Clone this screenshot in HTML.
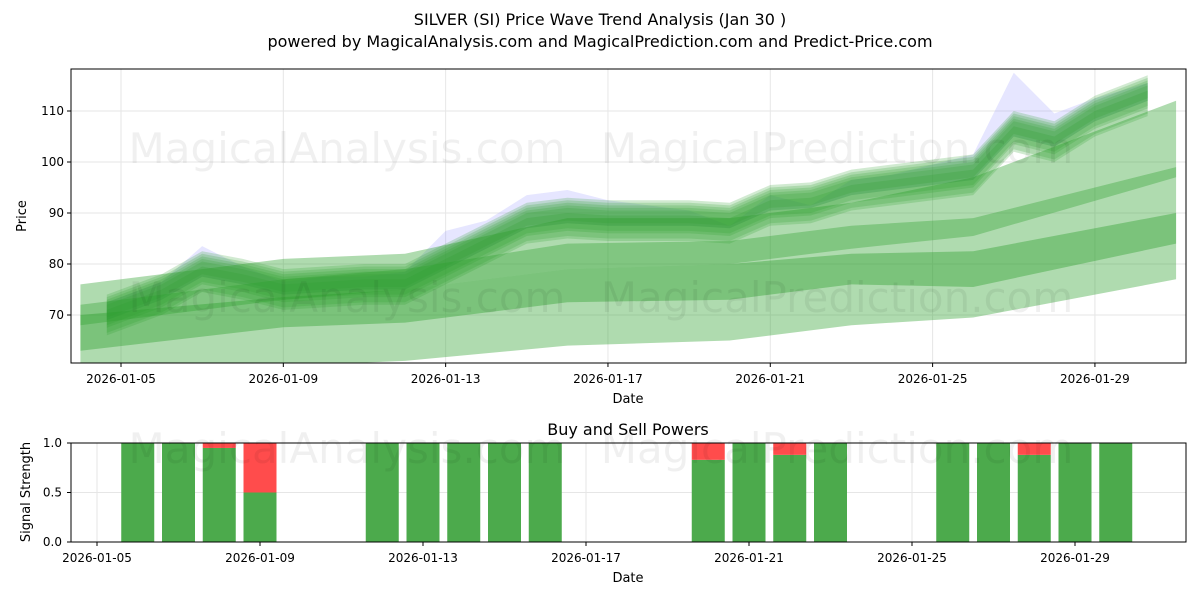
<!DOCTYPE html>
<html><head><meta charset="utf-8"><style>
body{margin:0;background:#fff;font-family:"Liberation Sans","DejaVu Sans",sans-serif}
</style></head><body>
<svg id="c" width="1200" height="600" xmlns="http://www.w3.org/2000/svg" font-family="DejaVu Sans, Liberation Sans, sans-serif">
<text x="600" y="25" text-anchor="middle" font-size="16">SILVER (SI) Price Wave Trend Analysis (Jan 30 )</text>
<text x="600" y="47" text-anchor="middle" font-size="16">powered by MagicalAnalysis.com and MagicalPrediction.com and Predict-Price.com</text>
<g id="topChart"></g><g id="botChart"></g>
</svg>
<script>
const NS='http://www.w3.org/2000/svg';
const days=[4.65,6,7,8,9,10,11,12,13,14,15,16,17,18,19,20,21,22,23,24,25,26,27,28,29,30.3];
const price=[71,75,79.5,78,76,76.5,77,77,81,85,89,90,89.5,89.5,89.5,89,92.5,93,95.5,96.5,97.5,98.5,107,105,110,114];
const peak=[72,76,83,79,76,77,77,78,86,88,93,94,92,91,90,87,93,91,96,97,99,101,117,109,112,115];
const bandDays=[4,9,12,16,20,23,26,31];
const bandALo=[57,60,61,64,65,68,69.5,77];
const bandAHi=[76,81,82,89,89,92,97,112];
const bandBLo=[63,67.6,68.5,72.5,73,76,75.5,84];
const bandBHi=[70,73.5,75,79,80,82,82.5,90];
const bandCLo=[68,73,75,79,80,83,85.5,97];
const bandCHi=[72,77,79,84,84.5,87.5,89,99];
const sigDays=[6,7,8,9,12,13,14,15,16,20,21,22,23,26,27,28,29,30];
const buy=[1,1,0.95,0.5,1,1,1,1,1,0.83,1,0.88,1,1,1,0.88,1,1];
const xTop=d=>121+(d-5)*40.58, yTop=v=>315-(v-70)*5.1;
const xBot=d=>97+(d-5)*40.75, yBot=v=>542-v*99;
function el(t,a,p,txt){const e=document.createElementNS(NS,t);for(const k in a)e.setAttribute(k,a[k]);if(txt!==undefined)e.textContent=txt;p.appendChild(e);return e;}
const tg=document.getElementById('topChart'),bg=document.getElementById('botChart');
[70,80,90,100,110].forEach(v=>{el('line',{x1:71,x2:1186,y1:yTop(v),y2:yTop(v),stroke:'#e6e6e6'},tg);
el('line',{x1:67,x2:71,y1:yTop(v),y2:yTop(v),stroke:'#000'},tg);
const t=el('text',{x:64,y:yTop(v)+4,'text-anchor':'end','font-size':12},tg,v);

});
const tickDays=[5,9,13,17,21,25,29];
const tickLabels=['2026-01-05','2026-01-09','2026-01-13','2026-01-17','2026-01-21','2026-01-25','2026-01-29'];
tickDays.forEach((d,i)=>{el('line',{x1:xTop(d),x2:xTop(d),y1:69,y2:363,stroke:'#e6e6e6'},tg);
el('line',{x1:xTop(d),x2:xTop(d),y1:363,y2:367,stroke:'#000'},tg);
const t=el('text',{x:xTop(d),y:383,'text-anchor':'middle','font-size':12},tg,tickLabels[i]);


el('line',{x1:xBot(d),x2:xBot(d),y1:443,y2:542,stroke:'#e6e6e6'},bg);
el('line',{x1:xBot(d),x2:xBot(d),y1:542,y2:546,stroke:'#000'},bg);
const t2=el('text',{x:xBot(d),y:562,'text-anchor':'middle','font-size':12},bg,tickLabels[i]);

});
const cp=el('clipPath',{id:'cl'},tg);el('rect',{x:71,y:69,width:1115,height:294},cp);
const g=el('g',{'clip-path':'url(#cl)'},tg);
function band(xs,lo,hi,fill,op,name){let pts=xs.map((d,i)=>xTop(d)+','+yTop(hi[i]));for(let i=xs.length-1;i>=0;i--)pts.push(xTop(xs[i])+','+yTop(lo[i]));
const p=el('polygon',{points:pts.join(' '),fill:fill,'fill-opacity':op},g);

}
band(days,price.map(v=>v-2),peak.map(v=>v+0.5),'#8080ff',0.2,'price-band');
band(bandDays,bandALo,bandAHi,'#2ca02c',0.38,'trend-band-wide');
band(bandDays,bandBLo,bandBHi,'#2ca02c',0.4,'trend-band-low');
band(bandDays,bandCLo,bandCHi,'#2ca02c',0.35,'trend-band-mid');
[[-3,2],[-4.5,1],[-2,3],[-5,0],[-1.5,1.5],[-3.5,2.5]].forEach((o,k)=>band(days,price.map(v=>v+o[0]),price.map(v=>v+o[1]),'#2ca02c',0.22,'wave-band-'+k));
el('rect',{x:71,y:69,width:1115,height:294,fill:'none',stroke:'#000'},tg);
el('text',{x:628,y:403,'text-anchor':'middle','font-size':13},tg,'Date');
el('text',{x:26,y:216,'text-anchor':'middle','font-size':13,transform:'rotate(-90 26 216)'},tg,'Price');
[['MagicalAnalysis.com',347,163],['MagicalPrediction.com',837,163],['MagicalAnalysis.com',347,312],['MagicalPrediction.com',837,312]].forEach(w=>el('text',{x:w[1],y:w[2],'text-anchor':'middle','font-size':42,fill:'#000','fill-opacity':0.06},tg,w[0]));
el('text',{x:628,y:435,'text-anchor':'middle','font-size':16},bg,'Buy and Sell Powers');
[[0,'0.0'],[0.5,'0.5'],[1,'1.0']].forEach(t=>{el('line',{x1:71,x2:1186,y1:yBot(t[0]),y2:yBot(t[0]),stroke:'#e6e6e6'},bg);el('line',{x1:67,x2:71,y1:yBot(t[0]),y2:yBot(t[0]),stroke:'#000'},bg);el('text',{x:62,y:yBot(t[0])+4,'text-anchor':'end','font-size':12},bg,t[1]);});
sigDays.forEach((d,i)=>{const x=xBot(d)-16.5;
const b=el('rect',{x:x,y:yBot(buy[i]),width:33,height:buy[i]*99,fill:'#4caa4c'},bg);


if(buy[i]<1){const s=el('rect',{x:x,y:443,width:33,height:(1-buy[i])*99,fill:'#ff4c4c'},bg);

}});
[['MagicalAnalysis.com',347,463],['MagicalPrediction.com',837,463]].forEach(w=>el('text',{x:w[1],y:w[2],'text-anchor':'middle','font-size':42,fill:'#000','fill-opacity':0.06},bg,w[0]));
el('rect',{x:71,y:443,width:1115,height:99,fill:'none',stroke:'#000'},bg);
el('text',{x:628,y:582,'text-anchor':'middle','font-size':13},bg,'Date');
el('text',{x:30,y:492,'text-anchor':'middle','font-size':13,transform:'rotate(-90 30 492)'},bg,'Signal Strength');
</script></body></html>
